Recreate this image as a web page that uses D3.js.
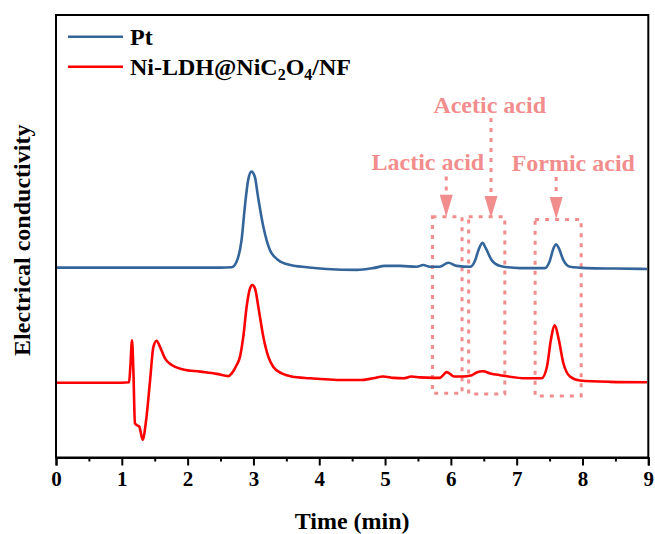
<!DOCTYPE html>
<html>
<head>
<meta charset="utf-8">
<script src="https://cdn.jsdelivr.net/npm/d3@7"></script>
<style>
  body { margin: 0; background: #fff; }
  svg text { font-family: "Times New Roman", "Liberation Serif", serif; font-weight: bold; }
</style>
</head>
<body>
<div id="chart"></div>
<script>
// Retention time (min) and conductivity (a.u.)
const ptTime = [0, 0.5, 1.0, 1.5, 2.0, 2.5, 2.67, 2.745, 2.82, 2.87, 2.92, 2.97, 3.02, 3.07, 3.15, 3.25, 3.38, 3.56, 3.81, 4.11, 4.57, 4.82, 5.0, 5.23, 5.48, 5.58, 5.68, 5.83, 5.96, 6.09, 6.29, 6.37, 6.42, 6.48, 6.53, 6.62, 6.75, 7.05, 7.43, 7.5, 7.56, 7.6, 7.64, 7.71, 7.81, 8.06, 8.5, 8.98];
const ptValue = [42.9, 42.9, 42.9, 42.9, 42.9, 42.9, 43.0, 44.3, 49.2, 56.7, 62.7, 64.6, 63.5, 58.9, 52.2, 46.9, 44.6, 43.5, 43.0, 42.6, 42.4, 42.8, 43.3, 43.3, 43.1, 43.5, 43.1, 43.1, 44.0, 43.3, 43.1, 44.6, 46.9, 48.5, 47.3, 44.6, 43.3, 42.8, 42.8, 44.3, 47.3, 48.2, 47.3, 44.6, 43.1, 42.8, 42.7, 42.6];

const ldhTime = [0, 0.5, 1.0, 1.11, 1.13, 1.155, 1.175, 1.2, 1.23, 1.266, 1.317, 1.37, 1.43, 1.48, 1.53, 1.58, 1.656, 1.758, 1.935, 2.19, 2.44, 2.62, 2.67, 2.745, 2.796, 2.846, 2.897, 2.948, 2.983, 3.024, 3.074, 3.15, 3.226, 3.3, 3.43, 3.58, 3.86, 4.37, 4.62, 4.82, 4.97, 5.13, 5.28, 5.4, 5.53, 5.73, 5.83, 5.94, 6.05, 6.17, 6.32, 6.39, 6.49, 6.6, 6.75, 7.15, 7.38, 7.46, 7.52, 7.58, 7.64, 7.71, 7.81, 7.96, 8.42, 8.98];
const ldhValue = [16.9, 16.9, 16.9, 17.0, 20.5, 26.5, 20.0, 7.7, 7.3, 7.0, 4.0, 8.5, 17.5, 25.0, 26.4, 25.0, 22.4, 20.9, 19.9, 19.4, 18.9, 18.4, 19.0, 20.9, 22.8, 27.3, 34.1, 38.2, 39.0, 38.2, 34.1, 27.3, 22.8, 20.5, 19.0, 18.3, 17.9, 17.5, 17.5, 17.9, 18.3, 18.0, 17.9, 18.3, 18.1, 18.0, 18.0, 19.3, 18.3, 18.3, 18.6, 19.2, 19.5, 19.0, 18.6, 17.9, 17.9, 20.5, 26.6, 29.9, 26.6, 21.3, 18.3, 17.4, 17.1, 17.0];

const xTicks = [0, 1, 2, 3, 4, 5, 6, 7, 8, 9];

// Acid annotations: label, dashed box [t0, t1, top, bottom], arrow [t, shaft top, tip]
const acidNames = ["Lactic acid", "Acetic acid", "Formic acid"];
const acidBoxes = [[5.72, 6.17, 54.4, 14.5], [6.27, 6.82, 54.4, 14.35], [7.28, 7.98, 53.8, 13.9]];
const acidArrows = [[5.93, 63.5, 54.4], [6.61, 76.7, 54.1], [7.60, 63.4, 53.9]];
const acidLabelPos = [[5.65, 65.0], [6.59, 77.9], [7.86, 64.7]];

const width = 655, height = 534;
const margin = { top: 15, right: 6.7, bottom: 76.5, left: 56 };

const svg = d3.select("#chart").append("svg")
    .attr("width", width)
    .attr("height", height);

const x = d3.scaleLinear().domain([0, 9]).range([margin.left, width - margin.right]);
const y = d3.scaleLinear().domain([0, 100]).range([height - margin.bottom, margin.top]);

const blue = "#33659a", red = "#ff0000", pink = "#f28d8d";

// dashed boxes and arrows first (under the curves)
const ann = svg.append("g");
ann.selectAll("rect.box")
    .data(acidBoxes)
    .join("rect")
    .attr("class", "box")
    .attr("x", d => x(d[0]))
    .attr("y", d => y(d[2]))
    .attr("width", d => x(d[1]) - x(d[0]))
    .attr("height", d => y(d[3]) - y(d[2]))
    .attr("fill", "none")
    .attr("stroke", pink)
    .attr("stroke-width", 3)
    .attr("stroke-dasharray", "4,6");

const headLen = 22, headHalf = 6.5;
ann.selectAll("line.shaft")
    .data(acidArrows)
    .join("line")
    .attr("x1", d => x(d[0]))
    .attr("x2", d => x(d[0]))
    .attr("y1", d => y(d[1]))
    .attr("y2", d => y(d[2]) - headLen)
    .attr("stroke", pink)
    .attr("stroke-width", 3)
    .attr("stroke-dasharray", "4,6");
ann.selectAll("path.head")
    .data(acidArrows)
    .join("path")
    .attr("d", d => {
        const cx = x(d[0]), tip = y(d[2]);
        return `M${cx - headHalf},${tip - headLen}L${cx + headHalf},${tip - headLen}L${cx},${tip}Z`;
    })
    .attr("fill", pink);

ann.selectAll("text.acid")
    .data(acidNames)
    .join("text")
    .attr("x", (d, i) => x(acidLabelPos[i][0]))
    .attr("y", (d, i) => y(acidLabelPos[i][1]))
    .attr("text-anchor", "middle")
    .style("font-size", "24px")
    .style("fill", pink)
    .text(d => d);

// curves
const line = d3.line()
    .x(d => x(d[0]))
    .y(d => y(d[1]))
    .curve(d3.curveMonotoneX);

svg.append("path")
    .datum(ptTime.map((t, i) => [t, ptValue[i]]))
    .attr("d", line)
    .attr("fill", "none")
    .attr("stroke", blue)
    .attr("stroke-width", 2.6);

svg.append("path")
    .datum(ldhTime.map((t, i) => [t, ldhValue[i]]))
    .attr("d", line)
    .attr("fill", "none")
    .attr("stroke", red)
    .attr("stroke-width", 2.6);

// frame
svg.append("rect")
    .attr("x", x(0))
    .attr("y", y(100))
    .attr("width", x(9) - x(0))
    .attr("height", y(0) - y(100))
    .attr("fill", "none")
    .attr("stroke", "#000")
    .attr("stroke-width", 2);

// x axis
const xAxis = svg.append("g")
    .attr("transform", `translate(0,${y(0)})`)
    .call(d3.axisBottom(x).tickValues(xTicks).tickSize(8).tickPadding(6).tickFormat(d3.format("d")));
xAxis.select(".domain").attr("stroke-width", 2);
xAxis.selectAll(".tick line").attr("stroke-width", 2);
xAxis.selectAll("text").style("font-size", "21px").attr("fill", "#000");

const minor = svg.append("g")
    .attr("transform", `translate(0,${y(0)})`)
    .call(d3.axisBottom(x).tickValues(d3.range(0.5, 9, 1)).tickSize(4).tickFormat(""));
minor.select(".domain").remove();
minor.selectAll(".tick line").attr("stroke-width", 2);

// axis titles
svg.append("text")
    .attr("x", (x(0) + x(9)) / 2)
    .attr("y", 529)
    .attr("text-anchor", "middle")
    .style("font-size", "24px")
    .text("Time (min)");

svg.append("text")
    .attr("transform", `translate(30,${(y(0) + y(100)) / 2 + 4}) rotate(-90)`)
    .attr("text-anchor", "middle")
    .style("font-size", "24px")
    .text("Electrical conductivity");

// legend
const legend = svg.append("g");
legend.append("line")
    .attr("x1", 68).attr("x2", 123).attr("y1", 36.7).attr("y2", 36.7)
    .attr("stroke", blue).attr("stroke-width", 2.6);
legend.append("text")
    .attr("x", 130).attr("y", 45)
    .style("font-size", "24px")
    .text("Pt");
legend.append("line")
    .attr("x1", 68).attr("x2", 123).attr("y1", 66.7).attr("y2", 66.7)
    .attr("stroke", red).attr("stroke-width", 2.6);
const lt = legend.append("text")
    .attr("x", 130).attr("y", 75)
    .style("font-size", "24px");
lt.append("tspan").text("Ni-LDH@NiC");
lt.append("tspan").attr("dy", 5).style("font-size", "16px").text("2");
lt.append("tspan").attr("dy", -5).text("O");
lt.append("tspan").attr("dy", 5).style("font-size", "16px").text("4");
lt.append("tspan").attr("dy", -5).text("/NF");
</script>
</body>
</html>
